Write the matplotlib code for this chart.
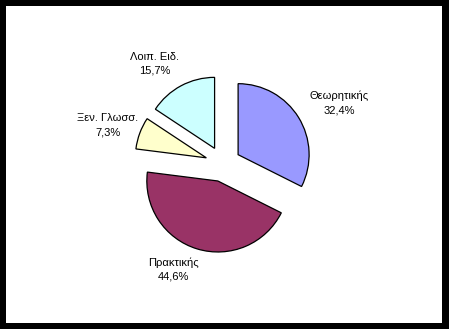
import matplotlib.pyplot as plt
import numpy as np

labels = ["Θεωρητικής", "Πρακτικής", "Ξεν. Γλωσσ.", "Λοιπ. Ειδ."]
values = [32.4, 44.6, 7.3, 15.7]
colors = ["#9999FF", "#993366", "#FFFFCC", "#CCFFFF"]
# label placement relative to each wedge: distance (in radii) and angle tweak (deg)
label_dist = [1.60, 1.40, 1.46, 1.455]
label_turn = [-4.6, -9.8, 2.0, 7.0]

plt.rcParams['font.family'] = ['Liberation Sans', 'DejaVu Sans']

W, H = 449, 329
fig = plt.figure(figsize=(W / 100, H / 100), dpi=100, facecolor='black')
# white plot area inside the black frame
ax = fig.add_axes([6 / W, 6 / H, 436 / W, 317 / H])

cx, cy, r = 223, 165, 71
# explode is in data units here, so scale by radius
wedges, _ = ax.pie(values, explode=[0.25 * r] * 4, startangle=90,
                   counterclock=False, colors=colors,
                   center=(cx, cy), radius=r, frame=True,
                   wedgeprops=dict(edgecolor='black', linewidth=0.9))

for w, name, val, d, t in zip(wedges, labels, values, label_dist, label_turn):
    mid = np.deg2rad((w.theta1 + w.theta2) / 2 + t)
    x0, y0 = w.center
    ax.text(x0 + d * r * np.cos(mid), y0 + d * r * np.sin(mid),
            "%s\n%s%%" % (name, ("%.1f" % val).replace('.', ',')),
            ha='center', va='center', fontsize=8, linespacing=1.45)

ax.set_xlim(6, 442)
ax.set_ylim(6, 323)
ax.set_aspect('equal')
ax.set_xticks([])
ax.set_yticks([])
for s in ax.spines.values():
    s.set_visible(False)
ax.set_facecolor('white')

plt.savefig('out.png', dpi=100, facecolor='black')
